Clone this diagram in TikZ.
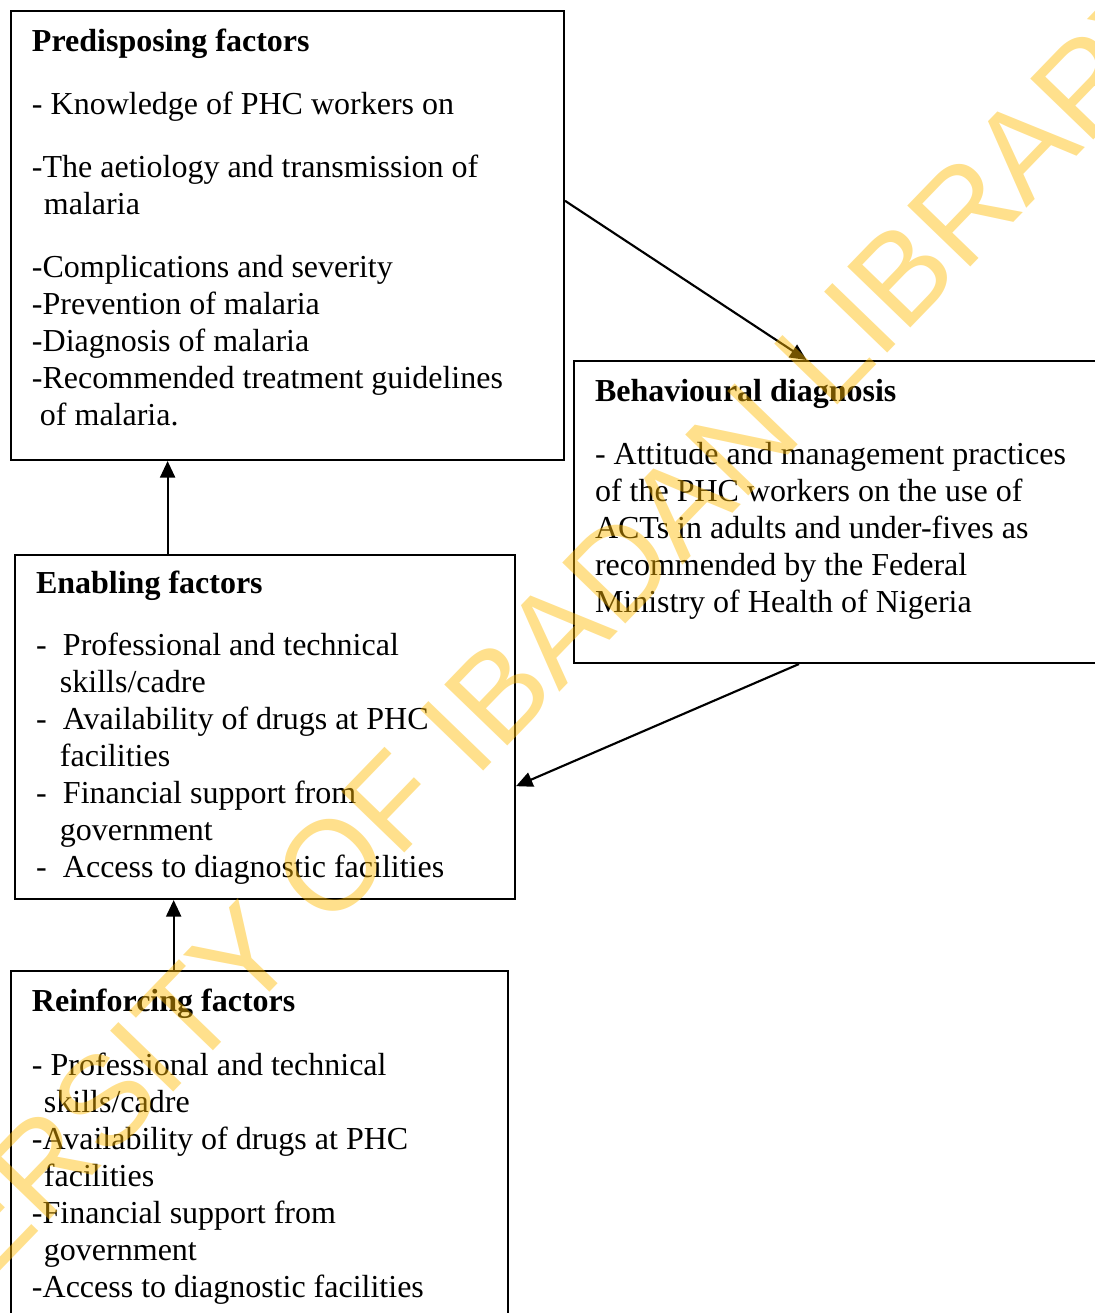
\documentclass[tikz,border=0pt]{standalone}
\usepackage{fontspec}
\setmainfont{Liberation Serif}
\newfontfamily\wmfont{Liberation Sans}
\usetikzlibrary{arrows.meta,calc}
\definecolor{wmyellow}{RGB}{255,186,0}
\newcommand{\dashitem}[1]{\makebox[10.125pt][l]{-}#1}
\tikzset{
  factor/.style={
    rectangle, draw=black, line width=0.75pt, anchor=north west,
    align=flush left, inner xsep=7.875pt, inner ysep=0pt,
    font=\fontsize{12pt}{13.875pt}\selectfont
  },
  arrow/.style={-{Triangle[length=6.2pt,width=5.6pt]}, line width=0.8pt, draw=black},
  watermark/.style={
    anchor=base west, rotate=46, inner sep=0pt,
    text=wmyellow, text opacity=0.45,
    font=\wmfont\fontsize{47.8pt}{50pt}\selectfont
  }
}

\begin{document}
\begin{tikzpicture}[x=0.375pt, y=-0.375pt]
  \useasboundingbox (0,0) rectangle (1095,1313);
  \clip (0,0) rectangle (1095,1313);

  % the four boxes
  \node[factor, text width=191.625pt, text height=15pt, text depth=153.375pt] (pre) at (10,10) {%
    \textbf{Predisposing factors}\\[9.75pt]
    - Knowledge of PHC workers on\\[9.75pt]
    -The aetiology and transmission of\\
    \hspace*{4.5pt}malaria\\[9.75pt]
    -Complications and severity\\
    -Prevention of malaria\\
    -Diagnosis of malaria\\
    -Recommended treatment guidelines\\
    \hspace*{3pt}of malaria.};
  \node[factor, text width=186.75pt, text height=15pt, text depth=98.25pt] (beh) at (573,360) {%
    \textbf{Behavioural diagnosis}\\[9.75pt]
    - Attitude and management practices\\
    of the PHC workers on the use of\\
    ACTs in adults and under-fives as\\
    recommended by the Federal\\
    Ministry of Health of Nigeria};
  \node[factor, text width=171.75pt, text height=14.6pt, text depth=114.4pt] (ena) at (14,554) {%
    \textbf{Enabling factors}\\[9.375pt]
    \dashitem{Professional and technical}\\
    \hspace*{9pt}skills/cadre\\
    \dashitem{Availability of drugs at PHC}\\
    \hspace*{9pt}facilities\\
    \dashitem{Financial support from}\\
    \hspace*{9pt}government\\
    \dashitem{Access to diagnostic facilities}};
  \node[factor, text width=170.625pt, text height=15pt, text depth=127.5pt] (rei) at (10,970) {%
    \textbf{Reinforcing factors}\\[10.125pt]
    - Professional and technical\\
    \hspace*{4.5pt}skills/cadre\\
    -Availability of drugs at PHC\\
    \hspace*{4.5pt}facilities\\
    -Financial support from\\
    \hspace*{4.5pt}government\\
    -Access to diagnostic facilities};

  % connectors
  \coordinate (enatop) at ($(ena.north west)!0.306!(ena.north east)$);
  \coordinate (reitop) at ($(rei.north west)!0.328!(rei.north east)$);
  \draw[arrow] ($(pre.north east)!0.423!(pre.south east)$) -- ($(beh.north west)!0.431!(beh.north east)$);
  \draw[arrow] ($(beh.south west)!0.417!(beh.south east)$) -- ($(ena.north east)!0.671!(ena.south east)$);
  \draw[arrow] (enatop) -- (enatop |- pre.south);
  \draw[arrow] (reitop) -- (reitop |- ena.south);

  \node[watermark] (wm) at (-228,1508) {UNIVERSITY OF IBADAN LIBRARY};
\end{tikzpicture}
\end{document}
